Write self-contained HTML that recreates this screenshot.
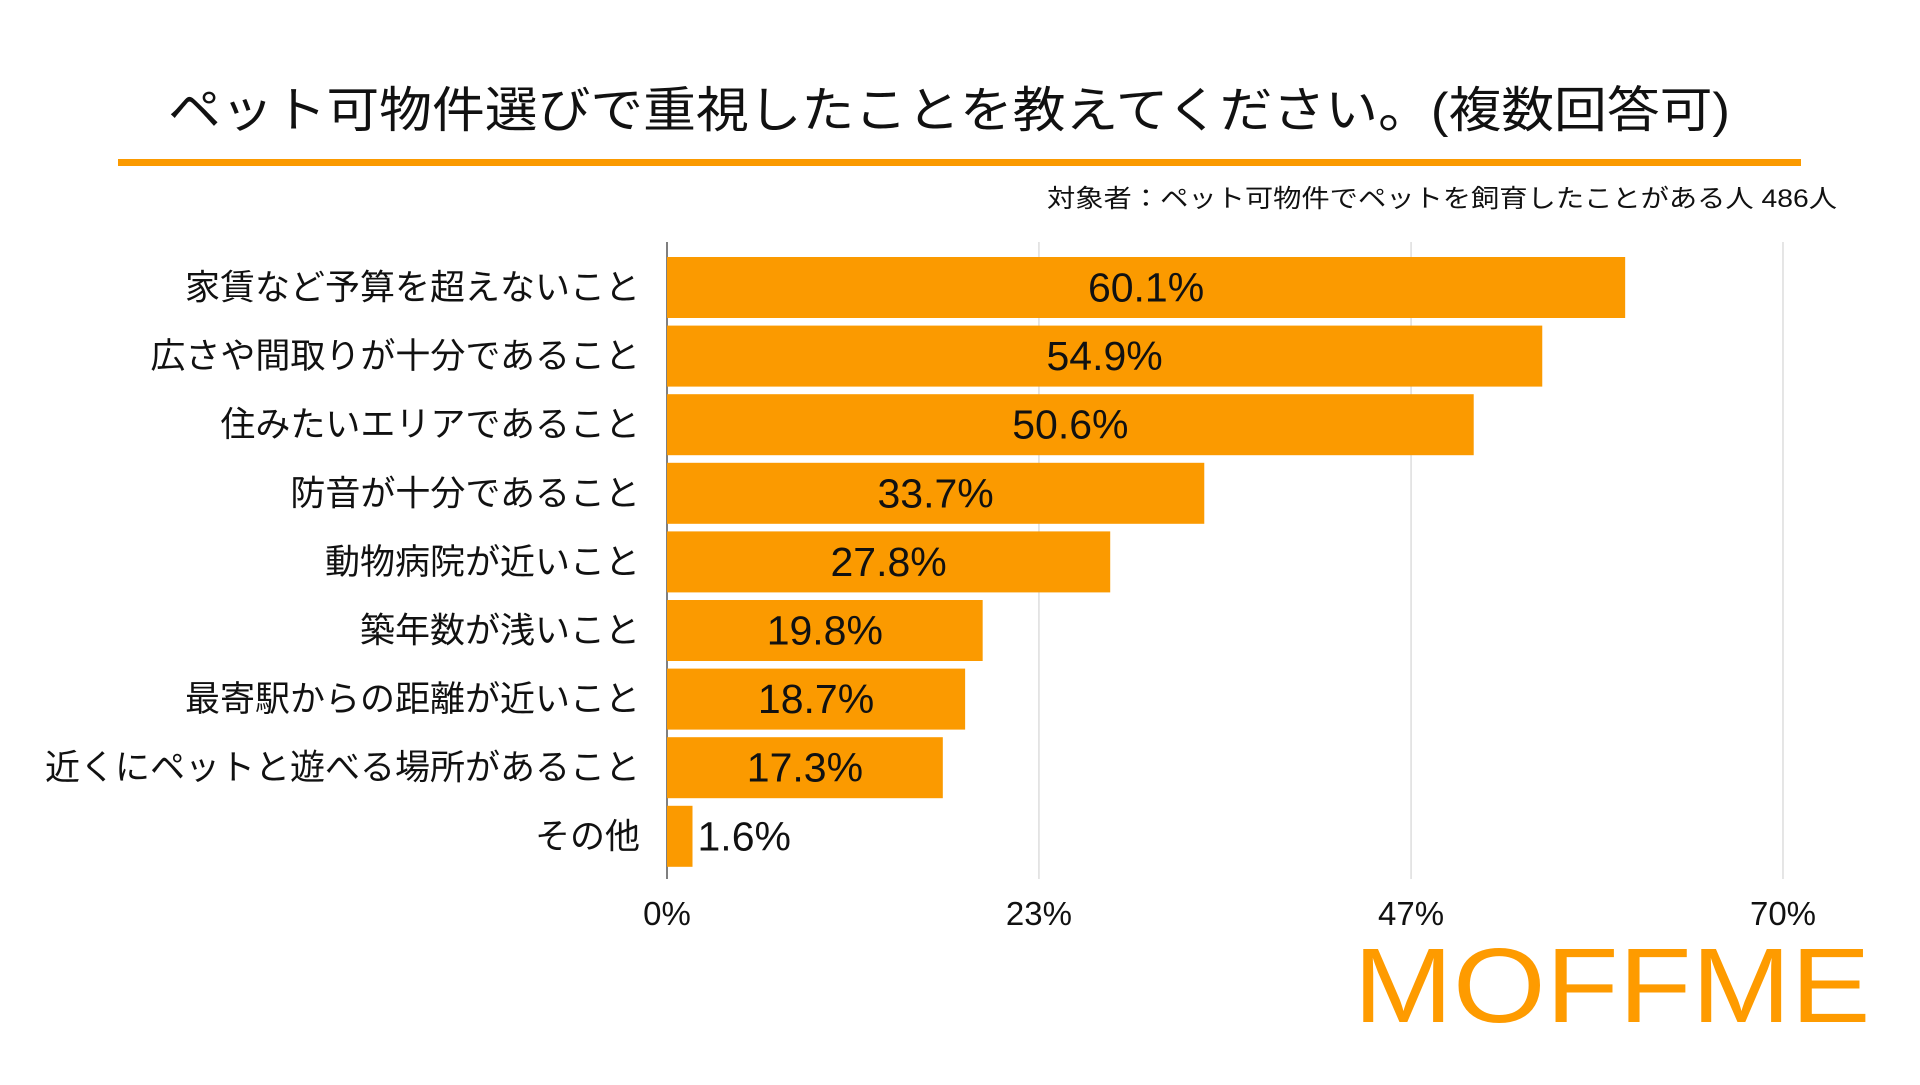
<!DOCTYPE html>
<html><head><meta charset="utf-8"><style>
html,body{margin:0;padding:0;background:#fff;}
body{width:1920px;height:1080px;overflow:hidden;font-family:"Liberation Sans","Noto Sans CJK JP",sans-serif;}
</style></head><body>
<svg id="chart" width="1920" height="1080" xmlns="http://www.w3.org/2000/svg" font-family="Liberation Sans, Noto Sans CJK JP, sans-serif">
<text x="168" y="127" font-size="49" fill="#111" textLength="1562" lengthAdjust="spacingAndGlyphs">ペット可物件選びで重視したことを教えてください。(複数回答可)</text>
<rect x="118" y="159" width="1683" height="7" fill="#fb9a00"/>
<text x="1047" y="207" font-size="25" fill="#111" textLength="790" lengthAdjust="spacingAndGlyphs">対象者：ペット可物件でペットを飼育したことがある人 486人</text>
<g id="grid"></g><g id="bars"></g><g id="labels"></g>
<text x="1612" y="1022" text-anchor="middle" font-size="106" fill="#fe9b00" textLength="517" lengthAdjust="spacingAndGlyphs">MOFFME</text>
</svg>
<script>
const categories=["家賃など予算を超えないこと","広さや間取りが十分であること","住みたいエリアであること","防音が十分であること","動物病院が近いこと","築年数が浅いこと","最寄駅からの距離が近いこと","近くにペットと遊べる場所があること","その他"];
const values=[60.1,54.9,50.6,33.7,27.8,19.8,18.7,17.3,1.6];
const ticks=[0,23.33,46.67,70];
const tickLabels=["0%","23%","47%","70%"];
const NS="http://www.w3.org/2000/svg";
const x0=667,x1=1783,maxV=70,top0=257,pitch=68.6,bh=61;
const xs=v=>x0+(v/maxV)*(x1-x0);
const yb=i=>top0+i*pitch;
function mk(tag,attrs,parent){const e=document.createElementNS(NS,tag);for(const k in attrs)e.setAttribute(k,attrs[k]);document.getElementById(parent).appendChild(e);return e;}
ticks.forEach((t,i)=>{
 const l=mk('line',{x1:xs(t),x2:xs(t),y1:242,y2:879,stroke:i==0?'#555':'#d4d4d4','stroke-width':i==0?1.5:1.2},'grid');
 
 
 const tx=mk('text',{x:xs(t),y:925,'text-anchor':'middle','font-size':33,fill:'#111'},'grid');
 tx.textContent=tickLabels[i];
 
 
});
values.forEach((v,i)=>{
 const y=yb(i);
 const r=mk('rect',{x:x0,y:y,width:xs(v)-x0,height:bh,fill:'#fb9a00'},'bars');
 
 
 const c=mk('text',{x:640,y:y+bh/2+12,'text-anchor':'end','font-size':35,fill:'#111'},'labels');
 c.textContent=categories[i];
 
 
 const w=xs(v)-x0;
 const inside=w>120;
 const t=mk('text',{x:inside?x0+w/2:xs(v)+5,y:y+bh/2+14,'text-anchor':inside?'middle':'start','font-size':41,fill:'#111'},'labels');
 t.textContent=v.toFixed(1)+'%';
 
 
});
</script>
</body></html>
